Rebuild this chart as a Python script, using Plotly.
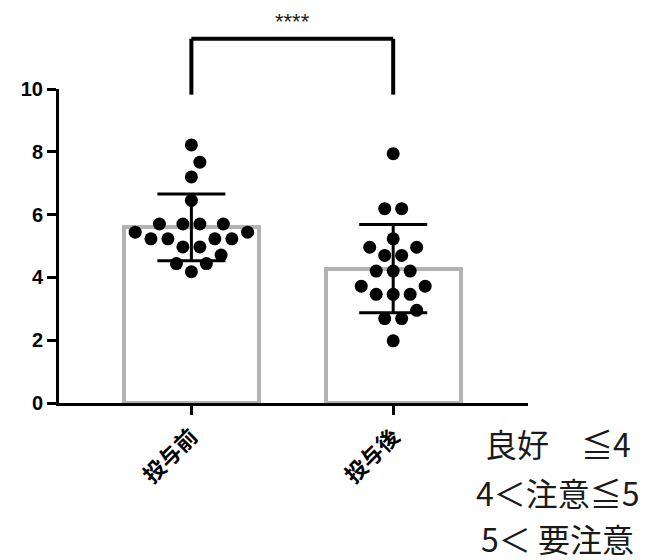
import numpy as np
import plotly.graph_objects as go

# ---------------- data ----------------
categories = ["投与前", "投与後"]
before_values = [8.22, 7.67, 7.20, 6.45, 5.70, 5.70, 5.70, 5.70, 5.44, 5.44,
                 5.23, 5.23, 5.23, 5.23, 4.97, 4.97, 4.71, 4.44, 4.44, 4.18]
after_values = [7.94, 6.19, 6.19, 5.23, 4.96, 4.96, 4.70, 4.70, 4.20, 4.20,
                4.20, 3.72, 3.72, 3.46, 3.46, 3.46, 2.95, 2.69, 2.69, 1.98]
significance = "****"
y_ticks = [0, 2, 4, 6, 8, 10]
legend_lines = ["良好　≦4", "4＜注意≦5", "5＜ 要注意"]

# ---------------- layout constants ----------------
# the page body has an 8px margin, so the figure is drawn 8px in from top-left
W, H = 651, 552
ML, MT = 50.5, 81
plot_w, plot_h = 469.5, 314
MR = W - ML - plot_w
MB = H - MT - plot_h
XMIN, XMAX = -0.656, 1.668
YMIN, YMAX = 0, 10
sx = plot_w / (XMAX - XMIN)   # px per x unit
sy = plot_h / (YMAX - YMIN)   # px per y unit


def swarm_offsets(values, d_px=17.0, step=0.25):
    """Row-wise symmetric beeswarm, rows processed from the lowest value up."""
    vals = np.asarray(values, dtype=float)
    placed = []  # (x_px, y_px)
    offs = np.zeros(len(vals))

    def ok(x, y, pts):
        return all((x - px) ** 2 + (y - py) ** 2 >= d_px ** 2 - 1e-6 for px, py in pts)

    for v in sorted(set(vals.tolist())):
        idx = [i for i in range(len(vals)) if vals[i] == v]
        y = v * sy
        row = []
        if len(idx) % 2 == 1:
            k = 0
            while True:
                cands = [k * step] if k == 0 else [k * step, -k * step]
                hit = next((c for c in cands if ok(c, y, placed)), None)
                if hit is not None:
                    row.append(hit)
                    break
                k += 1
        while len(row) < len(idx):
            k = 0
            while True:
                a = k * step
                pts = placed + [(r, y) for r in row]
                if 2 * a >= d_px - 1e-6 and ok(a, y, pts) and ok(-a, y, pts):
                    row += [-a, a]
                    break
                k += 1
        for i, r in zip(idx, sorted(row)):
            offs[i] = r
        placed += [(r, y) for r in row]
    return offs / sx


groups = [before_values, after_values]
means = [float(np.mean(g)) for g in groups]
sds = [float(np.std(g, ddof=1)) for g in groups]
xpos = list(range(len(categories)))

fig = go.Figure()

fig.add_trace(go.Bar(
    x=xpos, y=means, width=0.668,
    marker=dict(color="white", line=dict(color="#b3b3b3", width=4)),
    showlegend=False, hoverinfo="skip",
))

for i, g in enumerate(groups):
    offs = swarm_offsets(g)
    fig.add_trace(go.Scatter(
        x=[xpos[i] + o for o in offs], y=g, mode="markers",
        marker=dict(color="black", size=13),
        showlegend=False,
    ))

fig.add_trace(go.Scatter(
    x=xpos, y=means, mode="markers",
    marker=dict(color="rgba(0,0,0,0)", size=1),
    error_y=dict(type="data", array=sds, visible=True, color="black",
                 thickness=3, width=34),
    showlegend=False, hoverinfo="skip",
))


def ypaper(v):
    return (v - YMIN) / (YMAX - YMIN)


# significance bracket
b_top, b_bottom = 11.6, 9.82
for x0, x1, y0, y1 in [(xpos[0], xpos[0], b_bottom, b_top),
                       (xpos[1], xpos[1], b_bottom, b_top),
                       (xpos[0], xpos[1], b_top, b_top)]:
    fig.add_shape(type="line", xref="x", yref="paper", x0=x0, x1=x1,
                  y0=ypaper(y0), y1=ypaper(y1), line=dict(color="black", width=4))

fig.add_annotation(x=(xpos[0] + xpos[1]) / 2, xref="x", y=1 + MT / plot_h, yref="paper",
                   text=significance, showarrow=False, yanchor="top", borderpad=0,
                   font=dict(family="Liberation Sans, Arial", size=22, color="#222222"))

# criteria text block
line_y = [-0.128, -0.283, -0.431]
for txt, yy in zip(legend_lines, line_y):
    fig.add_annotation(x=(558 - 8 - ML) / plot_w, xref="paper", y=yy, yref="paper",
                       text=txt, showarrow=False, xanchor="center", yanchor="middle",
                       borderpad=0,
                       font=dict(family="Noto Sans CJK JP", size=32, color="#1a1a1a"))

fig.update_layout(
    width=W, height=H,
    margin=dict(l=ML, r=MR, t=MT, b=MB, autoexpand=False),
    plot_bgcolor="white", paper_bgcolor="white",
    bargap=0,
    xaxis=dict(range=[XMIN, XMAX], tickvals=xpos, ticktext=categories,
               tickangle=-45, ticks="outside", ticklen=9, tickwidth=3,
               tickcolor="black", showline=True, linecolor="black", linewidth=3,
               showgrid=False, zeroline=False, automargin=False,
               tickfont=dict(family="Noto Sans CJK JP", size=22, color="black", weight="bold")),
    yaxis=dict(range=[YMIN, YMAX], tickvals=y_ticks, ticks="outside", ticklen=9,
               tickwidth=3, tickcolor="black", showline=True, linecolor="black",
               linewidth=3, showgrid=False, zeroline=False, automargin=False,
               tickfont=dict(family="Liberation Sans, Arial", size=20, color="black", weight="bold")),
)

fig.write_html("out.html")
